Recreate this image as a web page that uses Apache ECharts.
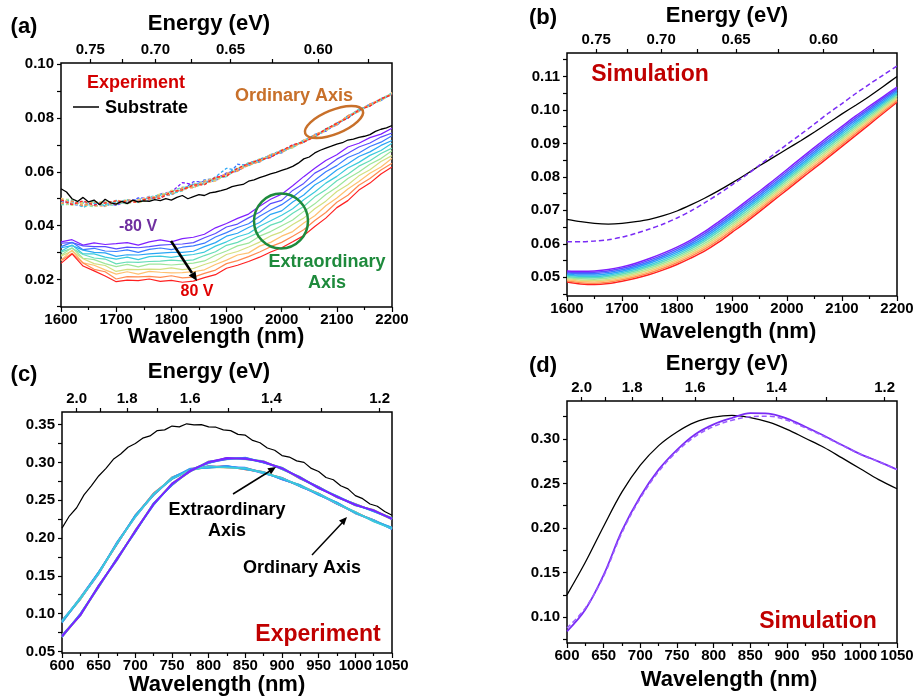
<!DOCTYPE html>
<html><head><meta charset="utf-8">
<script src="https://cdn.jsdelivr.net/npm/echarts@6/dist/echarts.min.js"></script>
<style>html,body{margin:0;padding:0;background:#fff}#c{width:917px;height:698px}</style>
</head><body><div id="c"></div>
<script>
// ---------------- Panel (a): experiment, 1600-2200 nm ----------------
const aWl = [1600,1620,1640,1660,1680,1700,1720,1740,1760,1780,1800,1820,1840,1860,1880,1900,1920,1940,1960,1980,2000,2020,2040,2060,2080,2100,2120,2140,2160,2180,2200];
const aSubWl = [1600,1610,1620,1630,1640,1650,1660,1670,1680,1690,1700,1710,1720,1730,1740,1750,1760,1770,1780,1790,1800,1810,1820,1830,1840,1850,1860,1870,1880,1890,1900,1910,1920,1930,1940,1950,1960,1970,1980,1990,2000,2010,2020,2030,2040,2050,2060,2070,2080,2090,2100,2110,2120,2130,2140,2150,2160,2170,2180,2190,2200];
const aSubstrate = [0.0537,0.0525,0.0500,0.0490,0.0505,0.0488,0.0495,0.0478,0.0498,0.0485,0.0480,0.0490,0.0482,0.0495,0.0488,0.0492,0.0490,0.0497,0.0493,0.0500,0.0495,0.0505,0.0512,0.0500,0.0508,0.0515,0.0512,0.0522,0.0525,0.0530,0.0536,0.0545,0.0550,0.0553,0.0565,0.0570,0.0578,0.0585,0.0592,0.0598,0.0605,0.0612,0.0620,0.0632,0.0648,0.0655,0.0670,0.0680,0.0688,0.0695,0.0703,0.0708,0.0718,0.0721,0.0728,0.0732,0.0738,0.0750,0.0758,0.0763,0.0772];
const voltages = ['-80 V','-64 V','-48 V','-32 V','-16 V','0 V','16 V','32 V','48 V','64 V','80 V'];
// Extraordinary axis (solid)
const aExt_m80 = [0.0340,0.0348,0.0328,0.0336,0.0330,0.0333,0.0337,0.0328,0.0340,0.0347,0.0340,0.0352,0.0357,0.0368,0.0392,0.0408,0.0427,0.0443,0.0472,0.0498,0.0517,0.0548,0.0582,0.0613,0.0642,0.0663,0.0692,0.0706,0.0727,0.0740,0.0762];
const aExt_m64 = [0.0335,0.0337,0.0325,0.0322,0.0322,0.0314,0.0320,0.0318,0.0322,0.0328,0.0330,0.0332,0.0337,0.0355,0.0371,0.0395,0.0406,0.0429,0.0450,0.0482,0.0494,0.0531,0.0557,0.0595,0.0617,0.0647,0.0669,0.0692,0.0707,0.0729,0.0744];
const aExt_m48 = [0.0322,0.0338,0.0311,0.0316,0.0306,0.0304,0.0310,0.0301,0.0312,0.0317,0.0311,0.0320,0.0325,0.0335,0.0358,0.0374,0.0393,0.0407,0.0435,0.0458,0.0478,0.0506,0.0539,0.0569,0.0600,0.0623,0.0653,0.0670,0.0694,0.0710,0.0734];
const aExt_m32 = [0.0318,0.0326,0.0309,0.0301,0.0299,0.0286,0.0292,0.0291,0.0295,0.0298,0.0301,0.0301,0.0305,0.0322,0.0337,0.0361,0.0372,0.0393,0.0412,0.0442,0.0455,0.0488,0.0514,0.0551,0.0575,0.0607,0.0630,0.0657,0.0674,0.0698,0.0716];
const aExt_m16 = [0.0305,0.0328,0.0295,0.0295,0.0283,0.0276,0.0283,0.0274,0.0285,0.0287,0.0282,0.0289,0.0293,0.0302,0.0324,0.0340,0.0359,0.0371,0.0398,0.0418,0.0439,0.0463,0.0496,0.0525,0.0558,0.0583,0.0614,0.0635,0.0661,0.0679,0.0706];
const aExt_0   = [0.0302,0.0316,0.0293,0.0280,0.0276,0.0258,0.0265,0.0264,0.0267,0.0268,0.0272,0.0269,0.0273,0.0289,0.0303,0.0327,0.0338,0.0357,0.0376,0.0402,0.0416,0.0446,0.0471,0.0507,0.0533,0.0567,0.0591,0.0621,0.0641,0.0668,0.0688];
const aExt_p16 = [0.0290,0.0318,0.0279,0.0274,0.0259,0.0248,0.0256,0.0247,0.0257,0.0257,0.0254,0.0257,0.0261,0.0269,0.0290,0.0306,0.0325,0.0335,0.0361,0.0378,0.0400,0.0421,0.0453,0.0481,0.0516,0.0543,0.0575,0.0599,0.0628,0.0649,0.0678];
const aExt_p32 = [0.0287,0.0306,0.0277,0.0259,0.0252,0.0230,0.0238,0.0237,0.0239,0.0238,0.0243,0.0237,0.0241,0.0256,0.0269,0.0293,0.0304,0.0321,0.0339,0.0362,0.0377,0.0404,0.0428,0.0463,0.0491,0.0527,0.0552,0.0585,0.0608,0.0638,0.0660];
const aExt_p48 = [0.0272,0.0309,0.0262,0.0253,0.0236,0.0220,0.0229,0.0220,0.0230,0.0227,0.0225,0.0226,0.0229,0.0236,0.0256,0.0272,0.0291,0.0299,0.0324,0.0338,0.0361,0.0378,0.0410,0.0437,0.0474,0.0503,0.0536,0.0564,0.0595,0.0618,0.0650];
const aExt_p64 = [0.0270,0.0298,0.0261,0.0238,0.0229,0.0202,0.0211,0.0210,0.0212,0.0208,0.0214,0.0206,0.0209,0.0223,0.0235,0.0259,0.0270,0.0285,0.0302,0.0322,0.0338,0.0361,0.0385,0.0419,0.0449,0.0487,0.0513,0.0550,0.0575,0.0607,0.0632];
const aExt_p80 = [0.0260,0.0295,0.0250,0.0232,0.0213,0.0192,0.0198,0.0196,0.0202,0.0193,0.0197,0.0190,0.0194,0.0207,0.0218,0.0242,0.0253,0.0267,0.0283,0.0302,0.0318,0.0340,0.0363,0.0397,0.0428,0.0467,0.0493,0.0532,0.0558,0.0592,0.0618];
// Ordinary axis (dashed)
const aOrd_m80 = [0.0495,0.0477,0.0490,0.0477,0.0486,0.0475,0.0493,0.0495,0.0494,0.0518,0.0525,0.0560,0.0553,0.0556,0.0578,0.0591,0.0603,0.0631,0.0639,0.0664,0.0674,0.0698,0.0710,0.0735,0.0751,0.0781,0.0802,0.0833,0.0845,0.0870,0.0889];
const aOrd_m64 = [0.0484,0.0492,0.0475,0.0489,0.0472,0.0488,0.0483,0.0503,0.0502,0.0505,0.0529,0.0532,0.0563,0.0564,0.0566,0.0596,0.0604,0.0633,0.0644,0.0654,0.0680,0.0691,0.0718,0.0729,0.0758,0.0773,0.0808,0.0826,0.0852,0.0865,0.0892];
const aOrd_m48 = [0.0500,0.0481,0.0471,0.0485,0.0488,0.0478,0.0491,0.0489,0.0509,0.0507,0.0516,0.0540,0.0546,0.0570,0.0575,0.0583,0.0628,0.0624,0.0647,0.0661,0.0670,0.0697,0.0711,0.0739,0.0752,0.0780,0.0800,0.0831,0.0847,0.0872,0.0888];
const aOrd_m32 = [0.0480,0.0488,0.0487,0.0472,0.0478,0.0494,0.0484,0.0499,0.0496,0.0514,0.0514,0.0537,0.0554,0.0555,0.0581,0.0613,0.0606,0.0631,0.0636,0.0662,0.0681,0.0690,0.0715,0.0730,0.0760,0.0776,0.0807,0.0824,0.0850,0.0865,0.0893];
const aOrd_m16 = [0.0493,0.0494,0.0468,0.0484,0.0474,0.0487,0.0497,0.0486,0.0505,0.0516,0.0519,0.0529,0.0552,0.0562,0.0567,0.0592,0.0614,0.0622,0.0645,0.0655,0.0678,0.0699,0.0710,0.0737,0.0753,0.0781,0.0801,0.0830,0.0851,0.0866,0.0889];
const aOrd_0   = [0.0477,0.0480,0.0484,0.0490,0.0476,0.0477,0.0492,0.0491,0.0492,0.0512,0.0527,0.0543,0.0542,0.0557,0.0576,0.0582,0.0611,0.0634,0.0638,0.0664,0.0673,0.0692,0.0717,0.0728,0.0759,0.0775,0.0806,0.0832,0.0844,0.0871,0.0892];
const aOrd_p16 = [0.0498,0.0497,0.0477,0.0470,0.0487,0.0490,0.0480,0.0497,0.0503,0.0503,0.0524,0.0531,0.0556,0.0554,0.0570,0.0593,0.0602,0.0629,0.0648,0.0656,0.0680,0.0689,0.0716,0.0736,0.0751,0.0782,0.0801,0.0826,0.0851,0.0864,0.0891];
const aOrd_p32 = [0.0486,0.0475,0.0488,0.0486,0.0490,0.0482,0.0495,0.0485,0.0495,0.0519,0.0517,0.0538,0.0544,0.0567,0.0578,0.0585,0.0612,0.0623,0.0640,0.0665,0.0671,0.0697,0.0709,0.0735,0.0758,0.0776,0.0808,0.0825,0.0846,0.0872,0.0887];
const aOrd_p48 = [0.0502,0.0483,0.0482,0.0474,0.0471,0.0495,0.0485,0.0496,0.0507,0.0506,0.0531,0.0530,0.0550,0.0558,0.0565,0.0590,0.0605,0.0632,0.0646,0.0657,0.0682,0.0690,0.0718,0.0730,0.0753,0.0783,0.0802,0.0831,0.0850,0.0865,0.0894];
const aOrd_p64 = [0.0482,0.0491,0.0473,0.0488,0.0483,0.0480,0.0496,0.0490,0.0497,0.0513,0.0515,0.0541,0.0540,0.0565,0.0574,0.0594,0.0603,0.0625,0.0637,0.0663,0.0672,0.0696,0.0708,0.0738,0.0757,0.0774,0.0809,0.0823,0.0852,0.0870,0.0888];
const aOrd_p80 = [0.0496,0.0479,0.0492,0.0476,0.0485,0.0492,0.0487,0.0488,0.0504,0.0501,0.0526,0.0533,0.0551,0.0552,0.0580,0.0584,0.0613,0.0630,0.0644,0.0653,0.0679,0.0700,0.0711,0.0729,0.0759,0.0780,0.0799,0.0830,0.0844,0.0871,0.0886];

// ---------------- Panel (b): simulation, 1600-2200 nm ----------------
const bWl = [1600,1625,1650,1675,1700,1725,1750,1775,1800,1825,1850,1875,1900,1925,1950,1975,2000,2025,2050,2075,2100,2125,2150,2175,2200];
const bSubstrate = [0.0673,0.0666,0.0661,0.0659,0.0661,0.0666,0.0673,0.0684,0.0698,0.0716,0.0736,0.0758,0.0782,0.0807,0.0833,0.0858,0.0883,0.0908,0.0934,0.0961,0.0988,0.1014,0.1041,0.1070,0.1100];
const bOrdinary = [0.0606,0.0606,0.0608,0.0612,0.0620,0.0631,0.0644,0.0659,0.0677,0.0698,0.0722,0.0748,0.0776,0.0804,0.0835,0.0866,0.0897,0.0927,0.0958,0.0990,0.1019,0.1049,0.1077,0.1104,0.1131];
const bExt_m80 = [0.05190,0.05180,0.05190,0.05230,0.05310,0.05420,0.05560,0.05720,0.05900,0.06110,0.06360,0.06650,0.06950,0.07260,0.07570,0.07890,0.08220,0.08550,0.08880,0.09200,0.09510,0.09820,0.10110,0.10400,0.10680];
const bExt_m64 = [0.05157,0.05142,0.05149,0.05188,0.05267,0.05375,0.05512,0.05670,0.05848,0.06056,0.06302,0.06589,0.06889,0.07198,0.07509,0.07830,0.08159,0.08489,0.08818,0.09138,0.09450,0.09762,0.10056,0.10350,0.10635];
const bExt_m48 = [0.05124,0.05104,0.05108,0.05146,0.05224,0.05330,0.05464,0.05620,0.05796,0.06002,0.06244,0.06528,0.06828,0.07136,0.07448,0.07770,0.08098,0.08428,0.08756,0.09076,0.09390,0.09704,0.10002,0.10300,0.10590];
const bExt_m32 = [0.05091,0.05066,0.05067,0.05104,0.05181,0.05285,0.05416,0.05570,0.05744,0.05948,0.06186,0.06467,0.06767,0.07074,0.07387,0.07710,0.08037,0.08367,0.08694,0.09014,0.09330,0.09646,0.09948,0.10250,0.10545];
const bExt_m16 = [0.05058,0.05028,0.05026,0.05062,0.05138,0.05240,0.05368,0.05520,0.05692,0.05894,0.06128,0.06406,0.06706,0.07012,0.07326,0.07650,0.07976,0.08306,0.08632,0.08952,0.09270,0.09588,0.09894,0.10200,0.10500];
const bExt_0   = [0.05025,0.04990,0.04985,0.05020,0.05095,0.05195,0.05320,0.05470,0.05640,0.05840,0.06070,0.06345,0.06645,0.06950,0.07265,0.07590,0.07915,0.08245,0.08570,0.08890,0.09210,0.09530,0.09840,0.10150,0.10455];
const bExt_p16 = [0.04992,0.04952,0.04944,0.04978,0.05052,0.05150,0.05272,0.05420,0.05588,0.05786,0.06012,0.06284,0.06584,0.06888,0.07204,0.07530,0.07854,0.08184,0.08508,0.08828,0.09150,0.09472,0.09786,0.10100,0.10410];
const bExt_p32 = [0.04959,0.04914,0.04903,0.04936,0.05009,0.05105,0.05224,0.05370,0.05536,0.05732,0.05954,0.06223,0.06523,0.06826,0.07143,0.07470,0.07793,0.08123,0.08446,0.08766,0.09090,0.09414,0.09732,0.10050,0.10365];
const bExt_p48 = [0.04926,0.04876,0.04862,0.04894,0.04966,0.05060,0.05176,0.05320,0.05484,0.05678,0.05896,0.06162,0.06462,0.06764,0.07082,0.07410,0.07732,0.08062,0.08384,0.08704,0.09030,0.09356,0.09678,0.10000,0.10320];
const bExt_p64 = [0.04893,0.04838,0.04821,0.04852,0.04923,0.05015,0.05128,0.05270,0.05432,0.05624,0.05838,0.06101,0.06401,0.06702,0.07021,0.07350,0.07671,0.08001,0.08322,0.08642,0.08970,0.09298,0.09624,0.09950,0.10275];
const bExt_p80 = [0.04860,0.04800,0.04780,0.04810,0.04880,0.04970,0.05080,0.05220,0.05380,0.05570,0.05780,0.06040,0.06340,0.06640,0.06960,0.07290,0.07610,0.07940,0.08260,0.08580,0.08910,0.09240,0.09570,0.09900,0.10230];

// ---------------- Panel (c): experiment, 600-1050 nm ----------------
const cWl = [600,625,650,675,700,725,750,775,800,825,850,875,900,925,950,975,1000,1025,1050];
const cSubWl = [600,610,620,630,640,650,660,670,680,690,700,710,720,730,740,750,760,770,780,790,800,810,820,830,840,850,860,870,880,890,900,910,920,930,940,950,960,970,980,990,1000,1010,1020,1030,1040,1050];
const cSubstrate = [0.2130,0.2290,0.2400,0.2570,0.2690,0.2820,0.2920,0.3040,0.3110,0.3200,0.3250,0.3320,0.3350,0.3420,0.3430,0.3480,0.3470,0.3510,0.3495,0.3500,0.3470,0.3465,0.3430,0.3420,0.3370,0.3360,0.3290,0.3260,0.3190,0.3160,0.3090,0.3070,0.3020,0.3000,0.2920,0.2880,0.2800,0.2770,0.2690,0.2650,0.2560,0.2520,0.2450,0.2420,0.2350,0.2300];
const cExt_m80 = [0.0705,0.0975,0.1372,0.1714,0.2098,0.2446,0.2720,0.2882,0.3006,0.3059,0.3045,0.3012,0.2917,0.2801,0.2658,0.2549,0.2435,0.2368,0.2251];
const cExt_m64 = [0.0692,0.0991,0.1355,0.1734,0.2081,0.2457,0.2704,0.2902,0.2996,0.3043,0.3060,0.2999,0.2929,0.2791,0.2670,0.2537,0.2447,0.2357,0.2261];
const cExt_m48 = [0.0712,0.0981,0.1368,0.1708,0.2095,0.2440,0.2714,0.2885,0.3011,0.3047,0.3056,0.2995,0.2924,0.2787,0.2674,0.2543,0.2434,0.2365,0.2247];
const cExt_m32 = [0.0697,0.0999,0.1351,0.1724,0.2077,0.2459,0.2698,0.2896,0.2993,0.3062,0.3041,0.3008,0.2909,0.2805,0.2662,0.2552,0.2443,0.2351,0.2257];
const cExt_m16 = [0.0709,0.0978,0.1363,0.1730,0.2088,0.2438,0.2717,0.2880,0.3003,0.3045,0.3063,0.3001,0.2926,0.2793,0.2655,0.2554,0.2432,0.2364,0.2250];
const cExt_0   = [0.0688,0.0988,0.1375,0.1716,0.2101,0.2452,0.2701,0.2894,0.2988,0.3056,0.3048,0.3016,0.2913,0.2798,0.2673,0.2539,0.2450,0.2354,0.2264];
const cExt_p16 = [0.0704,0.0972,0.1354,0.1729,0.2084,0.2463,0.2713,0.2887,0.3008,0.3039,0.3054,0.2997,0.2932,0.2786,0.2667,0.2556,0.2436,0.2370,0.2252];
const cExt_p32 = [0.0694,0.0994,0.1365,0.1706,0.2093,0.2443,0.2722,0.2899,0.2995,0.3053,0.3038,0.3011,0.2916,0.2806,0.2659,0.2542,0.2446,0.2353,0.2266];
const cExt_p48 = [0.0715,0.0983,0.1349,0.1726,0.2080,0.2455,0.2707,0.2877,0.3014,0.3042,0.3057,0.3003,0.2928,0.2789,0.2677,0.2536,0.2442,0.2363,0.2245];
const cExt_p64 = [0.0691,0.0979,0.1370,0.1717,0.2104,0.2448,0.2718,0.2895,0.2991,0.3060,0.3044,0.3014,0.2910,0.2800,0.2661,0.2551,0.2430,0.2372,0.2259];
const cExt_p80 = [0.0702,0.0996,0.1357,0.1728,0.2085,0.2460,0.2699,0.2892,0.3005,0.3048,0.3058,0.2998,0.2923,0.2783,0.2672,0.2541,0.2449,0.2356,0.2249];
const cOrd_m80 = [0.0907,0.1197,0.1525,0.1934,0.2279,0.2578,0.2799,0.2901,0.2952,0.2936,0.2920,0.2854,0.2792,0.2687,0.2572,0.2466,0.2325,0.2236,0.2118];
const cOrd_m64 = [0.0891,0.1213,0.1546,0.1921,0.2296,0.2567,0.2787,0.2908,0.2932,0.2953,0.2914,0.2873,0.2773,0.2699,0.2578,0.2449,0.2339,0.2220,0.2130];
const cOrd_m48 = [0.0901,0.1191,0.1535,0.1944,0.2287,0.2587,0.2778,0.2896,0.2945,0.2939,0.2930,0.2859,0.2789,0.2679,0.2586,0.2463,0.2329,0.2237,0.2116];
const cOrd_m32 = [0.0880,0.1202,0.1551,0.1924,0.2300,0.2575,0.2793,0.2918,0.2926,0.2950,0.2911,0.2867,0.2777,0.2696,0.2568,0.2469,0.2333,0.2227,0.2137];
const cOrd_m16 = [0.0904,0.1206,0.1530,0.1933,0.2276,0.2582,0.2782,0.2900,0.2949,0.2932,0.2924,0.2856,0.2795,0.2685,0.2584,0.2454,0.2345,0.2218,0.2123];
const cOrd_0   = [0.0893,0.1189,0.1543,0.1922,0.2295,0.2570,0.2801,0.2903,0.2935,0.2944,0.2910,0.2872,0.2782,0.2702,0.2573,0.2464,0.2326,0.2234,0.2133];
const cOrd_p16 = [0.0890,0.1210,0.1528,0.1936,0.2282,0.2584,0.2780,0.2913,0.2934,0.2933,0.2923,0.2858,0.2788,0.2684,0.2587,0.2456,0.2340,0.2222,0.2131];
const cOrd_p32 = [0.0903,0.1194,0.1545,0.1916,0.2299,0.2573,0.2796,0.2893,0.2944,0.2949,0.2908,0.2871,0.2776,0.2694,0.2575,0.2468,0.2328,0.2233,0.2121];
const cOrd_p48 = [0.0883,0.1204,0.1532,0.1942,0.2285,0.2590,0.2786,0.2910,0.2929,0.2945,0.2912,0.2875,0.2781,0.2698,0.2571,0.2462,0.2341,0.2225,0.2135];
const cOrd_p64 = [0.0898,0.1186,0.1549,0.1926,0.2303,0.2571,0.2802,0.2899,0.2947,0.2930,0.2927,0.2862,0.2796,0.2680,0.2583,0.2453,0.2332,0.2239,0.2125];
const cOrd_p80 = [0.0886,0.1207,0.1537,0.1920,0.2292,0.2592,0.2783,0.2915,0.2937,0.2947,0.2905,0.2869,0.2779,0.2692,0.2590,0.2451,0.2343,0.2226,0.2132];

// ---------------- Panel (d): simulation, 600-1050 nm ----------------
const dWl = [600,625,650,675,700,725,750,775,800,825,850,875,900,925,950,975,1000,1025,1050];
const dSubstrate = [0.1250,0.1615,0.2020,0.2405,0.2705,0.2925,0.3078,0.3188,0.3244,0.3264,0.3240,0.3188,0.3108,0.3008,0.2907,0.2787,0.2665,0.2543,0.2441];
const dExtraordinary = [0.0839,0.1084,0.1473,0.1970,0.2354,0.2655,0.2878,0.3053,0.3164,0.3235,0.3290,0.3285,0.3228,0.3137,0.3038,0.2932,0.2830,0.2746,0.2657];
const dOrdinary = [0.0877,0.1100,0.1460,0.1950,0.2335,0.2635,0.2860,0.3030,0.3140,0.3210,0.3250,0.3255,0.3210,0.3125,0.3030,0.2928,0.2828,0.2745,0.2657];

// ---------------- Axis ticks ----------------
const irEnergyLabels = [0.75,0.70,0.65,0.60];
const irEnergyTicks = [0.75,0.725,0.70,0.675,0.65,0.625,0.60,0.575];
const visEnergyLabels = [2.0,1.8,1.6,1.4,1.2];
const visEnergyTicks = [2.0,1.9,1.8,1.7,1.6,1.5,1.4,1.3,1.2];
const aYLabels = [0.02,0.04,0.06,0.08,0.10];
const aYTicks = [0.01,0.02,0.03,0.04,0.05,0.06,0.07,0.08,0.09,0.10];
const bYLabels = [0.05,0.06,0.07,0.08,0.09,0.10,0.11];
const bYTicks = [0.045,0.05,0.055,0.06,0.065,0.07,0.075,0.08,0.085,0.09,0.095,0.10,0.105,0.11,0.115];
const cYLabels = [0.05,0.10,0.15,0.20,0.25,0.30,0.35];
const cYTicks = [0.05,0.075,0.10,0.125,0.15,0.175,0.20,0.225,0.25,0.275,0.30,0.325,0.35];
const dYLabels = [0.10,0.15,0.20,0.25,0.30];
const dYTicks = [0.075,0.10,0.125,0.15,0.175,0.20,0.225,0.25,0.275,0.30,0.325];

const RAINBOW = ['#7f1fff','#5a4dff','#3a7bff','#2aa6f5','#3ccbdc','#66ddb8','#9ee69a','#d2e080','#ffc070','#ff8a50','#ff2020'];
const FONT = '"Liberation Sans", Arial, Helvetica, sans-serif';
const HC = 1239.84;

const panels = [
  {grid:{left:61,top:63,width:331,height:244}, xr:[1600,2200], xi:100, eL:irEnergyLabels, eT:irEnergyTicks, ed:2, yr:[0.0098,0.1004], yL:aYLabels, yT:aYTicks},
  {grid:{left:567,top:53,width:330,height:243}, xr:[1600,2200], xi:100, eL:irEnergyLabels, eT:irEnergyTicks, ed:2, yr:[0.0444,0.117], yL:bYLabels, yT:bYTicks},
  {grid:{left:62,top:412,width:330,height:241}, xr:[600,1050], xi:50, eL:visEnergyLabels, eT:visEnergyTicks, ed:1, yr:[0.0479,0.3666], yL:cYLabels, yT:cYTicks},
  {grid:{left:567,top:401,width:330,height:242}, xr:[600,1050], xi:50, eL:visEnergyLabels, eT:visEnergyTicks, ed:1, yr:[0.0709,0.3426], yL:dYLabels, yT:dYTicks}
];

const lblStyle = {color:'#000', fontWeight:'bold', fontSize:15, fontFamily:FONT};
const tickStyle = {color:'#000', width:1.2};
const grids = [], xAxes = [], yAxes = [];
panels.forEach((p, i) => {
  grids.push(Object.assign({show:true, borderColor:'#000', borderWidth:1.5, backgroundColor:'rgba(0,0,0,0)', containLabel:false, outerBoundsMode:'none'}, p.grid));
  xAxes.push({gridIndex:i, type:'value', position:'bottom', min:p.xr[0], max:p.xr[1], interval:p.xi,
    axisLine:{show:false}, splitLine:{show:false},
    axisTick:{show:true, length:5, lineStyle:tickStyle},
    minorTick:{show:true, splitNumber:2, length:3, lineStyle:tickStyle},
    axisLabel:Object.assign({margin:5, showMinLabel:true, showMaxLabel:true, hideOverlap:false, formatter: v => String(Math.round(v))}, lblStyle)});
  xAxes.push({gridIndex:i, type:'value', position:'top', min:p.xr[0], max:p.xr[1],
    axisLine:{show:false}, splitLine:{show:false},
    axisTick:{show:true, length:4, lineStyle:tickStyle, customValues:p.eT.map(e => HC / e)},
    axisLabel:Object.assign({margin:6, customValues:p.eL.map(e => HC / e), formatter: v => (HC / v).toFixed(p.ed)}, lblStyle)});
  yAxes.push({gridIndex:i, type:'value', min:p.yr[0], max:p.yr[1],
    axisLine:{show:false}, splitLine:{show:false},
    axisTick:{show:true, length:4, lineStyle:tickStyle, customValues:p.yT},
    axisLabel:Object.assign({margin:7, customValues:p.yL, formatter: v => v.toFixed(2)}, lblStyle)});
});

const series = [];
function addLine(gi, wl, ys, color, o) {
  o = o || {};
  series.push({type:'line', xAxisIndex:2 * gi, yAxisIndex:gi, name:o.name || '',
    data: wl.map((x, k) => [x, ys[k]]), showSymbol:false, symbol:'none', silent:true,
    smooth:o.smooth || false, z:o.z || 2,
    lineStyle:{color:color, width:o.w || 1.2, type:o.dash || 'solid'}});
}

// (a)
const aOrd = [aOrd_m80,aOrd_m64,aOrd_m48,aOrd_m32,aOrd_m16,aOrd_0,aOrd_p16,aOrd_p32,aOrd_p48,aOrd_p64,aOrd_p80];
const aExt = [aExt_m80,aExt_m64,aExt_m48,aExt_m32,aExt_m16,aExt_0,aExt_p16,aExt_p32,aExt_p48,aExt_p64,aExt_p80];
aOrd.forEach((ys, k) => addLine(0, aWl, ys, RAINBOW[k], {dash:[3,2], w:1.3, name:'O ' + voltages[k]}));
aExt.forEach((ys, k) => addLine(0, aWl, ys, RAINBOW[k], {w:1.2, name:'E ' + voltages[k]}));
addLine(0, aSubWl, aSubstrate, '#000', {w:1.3, z:3, name:'Substrate'});
// (b)
const bExt = [bExt_m80,bExt_m64,bExt_m48,bExt_m32,bExt_m16,bExt_0,bExt_p16,bExt_p32,bExt_p48,bExt_p64,bExt_p80];
bExt.slice().reverse().forEach((ys, k) => addLine(1, bWl, ys, RAINBOW[10 - k], {w:1.5, smooth:0.3}));
addLine(1, bWl, bSubstrate, '#000', {w:1.3, smooth:0.3, z:3});
addLine(1, bWl, bOrdinary, '#7a2cf5', {w:1.5, smooth:0.3, dash:[5,3], z:3});
// (c)
const cOrd = [cOrd_m80,cOrd_m64,cOrd_m48,cOrd_m32,cOrd_m16,cOrd_0,cOrd_p16,cOrd_p32,cOrd_p48,cOrd_p64,cOrd_p80];
const cExt = [cExt_m80,cExt_m64,cExt_m48,cExt_m32,cExt_m16,cExt_0,cExt_p16,cExt_p32,cExt_p48,cExt_p64,cExt_p80];
const cOrdOrder = [10,9,8,0,7,1,6,2,5,3,4];
cOrdOrder.forEach(k => addLine(2, cWl, cOrd[k], RAINBOW[k], {w:1.6}));
cExt.slice().reverse().forEach((ys, k) => addLine(2, cWl, ys, RAINBOW[10 - k], {w:1.6}));
addLine(2, cSubWl, cSubstrate, '#000', {w:1.2, z:3});
// (d)
addLine(3, dWl, dSubstrate, '#000', {w:1.3, smooth:0.35});
addLine(3, dWl, dExtraordinary, '#7a2cf5', {w:1.8, smooth:0.35});
addLine(3, dWl, dOrdinary, '#9a5cff', {w:1.5, smooth:0.35, dash:[5,3]});

// ---------------- annotations ----------------
function txt(s, x, y, size, color, align) {
  return {type:'text', silent:true, z:100, style:{text:s, x:x, y:y, fill:color || '#000',
    font:'bold ' + size + 'px ' + FONT, align:align || 'center', verticalAlign:'middle',
    textAlign:align || 'center', textVerticalAlign:'middle'}};
}
function seg(x1, y1, x2, y2, w, color) {
  return {type:'line', silent:true, z:100, shape:{x1:x1, y1:y1, x2:x2, y2:y2}, style:{stroke:color || '#000', lineWidth:w}};
}
function head(pts, color) {
  return {type:'polygon', silent:true, z:100, shape:{points:pts}, style:{fill:color || '#000'}};
}
const RED = '#c00000';
const graphics = [
  txt('(a)', 24, 27, 22), txt('(b)', 543, 18, 22), txt('(c)', 24, 375, 22), txt('(d)', 543, 366, 22),
  txt('Energy (eV)', 209, 24, 22), txt('Energy (eV)', 727, 16, 22), txt('Energy (eV)', 209, 372, 22), txt('Energy (eV)', 727, 364, 22),
  txt('Wavelength (nm)', 216, 337, 22), txt('Wavelength (nm)', 728, 332, 22), txt('Wavelength (nm)', 217, 685, 22), txt('Wavelength (nm)', 729, 680, 22),
  // (a)
  txt('Experiment', 136, 83, 18, '#d40000'),
  seg(73, 107, 99, 107, 1.5),
  txt('Substrate', 105, 108, 18, '#000', 'left'),
  txt('Ordinary Axis', 294, 96, 18, '#c8702a'),
  {type:'ellipse', silent:true, z:100, x:334, y:122, rotation:0.384, shape:{cx:0, cy:0, rx:31, ry:12}, style:{fill:'none', stroke:'#c8702a', lineWidth:2.5}},
  {type:'ellipse', silent:true, z:100, x:281, y:221, shape:{cx:0, cy:0, rx:27, ry:27.5}, style:{fill:'none', stroke:'#1e8a3c', lineWidth:2.5}},
  txt('Extraordinary', 327, 262, 18, '#1e8a3c'), txt('Axis', 327, 283, 18, '#1e8a3c'),
  txt('-80 V', 138, 227, 16, '#7030a0'),
  txt('80 V', 197, 292, 16, '#e00000'),
  seg(171, 241, 192, 273, 2.5),
  head([[197, 281], [188.7, 275.6], [195.5, 271.2]]),
  // (b)
  txt('Simulation', 650, 75, 23, RED),
  // (c)
  txt('Extraordinary', 227, 510, 18), txt('Axis', 227, 531, 18),
  seg(233, 494, 270, 471, 1.5),
  head([[276, 467], [271.1, 474.2], [267.4, 468.3]]),
  txt('Ordinary Axis', 302, 568, 18),
  seg(312, 555, 342, 523, 1.5),
  head([[347, 517], [344.1, 525.3], [339.0, 520.5]]),
  txt('Experiment', 318, 635, 23, RED),
  // (d)
  txt('Simulation', 818, 622, 23, RED)
];

const chart = echarts.init(document.getElementById('c'), null, {renderer:'canvas'});
chart.setOption({
  animation:false,
  backgroundColor:'#fff',
  textStyle:{fontFamily:FONT},
  grid:grids, xAxis:xAxes, yAxis:yAxes, series:series,
  graphic:{elements:graphics}
});
</script>
</body></html>
